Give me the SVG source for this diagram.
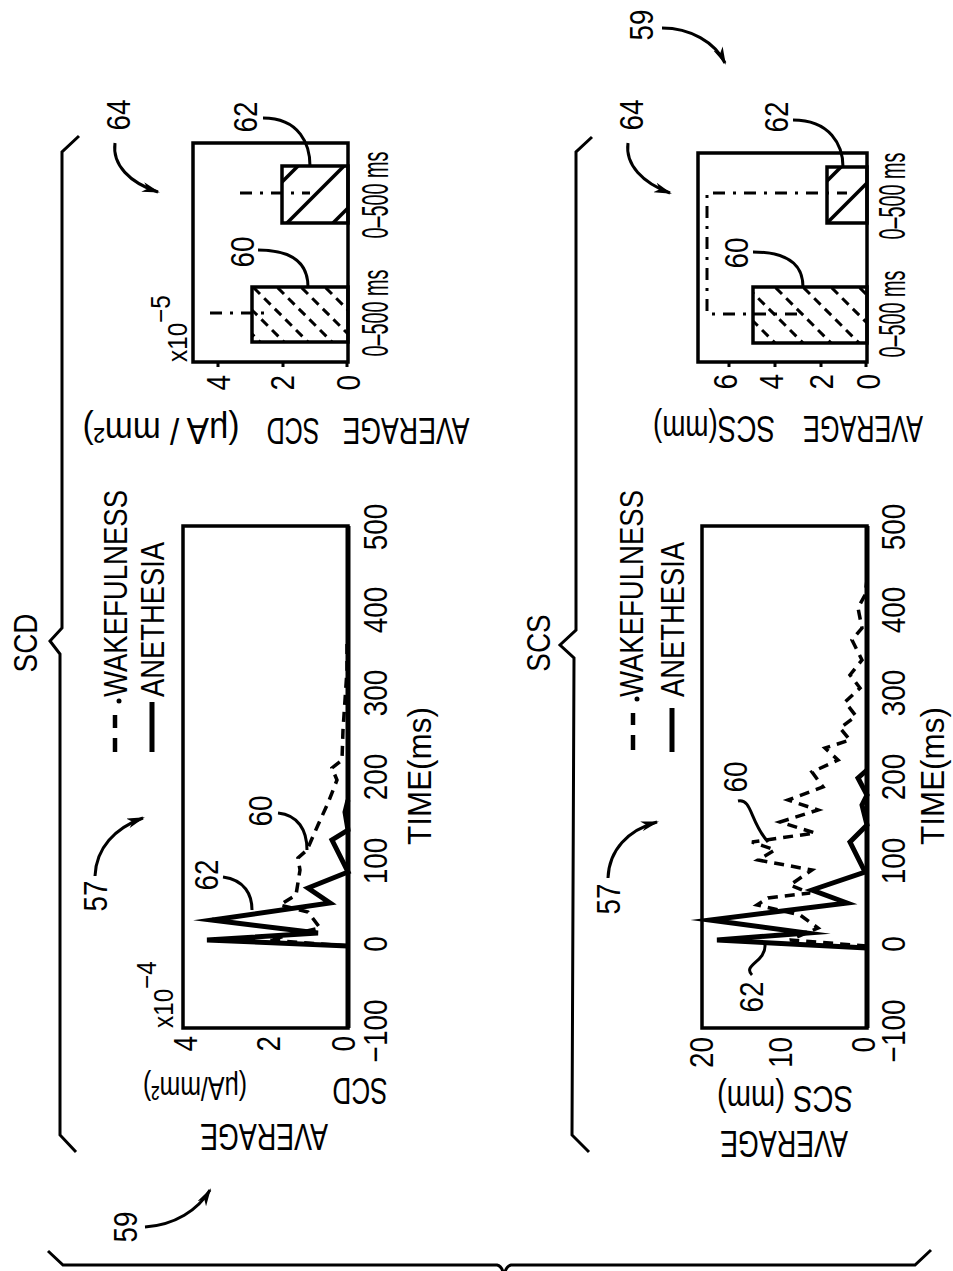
<svg xmlns="http://www.w3.org/2000/svg" width="953" height="1271" viewBox="0 0 953 1271">
<defs>
<style>
.t{font-family:"Liberation Sans",Arial,sans-serif;font-size:34px;fill:#000}
.ln{fill:none;stroke:#000;stroke-width:3}
.box{fill:none;stroke:#000;stroke-width:3.5}
.sol{fill:none;stroke:#000;stroke-width:5;stroke-linejoin:miter;stroke-miterlimit:10}
.dsh{fill:none;stroke:#000;stroke-width:3.5;stroke-dasharray:10 7}
.dd{fill:none;stroke:#000;stroke-width:3;stroke-dasharray:12 8 3 8}
.hd{stroke:#000;stroke-width:3;stroke-dasharray:9 6}
.hs{stroke:#000;stroke-width:3.5}
</style>
<marker id="ah" viewBox="0 0 18 10" refX="16" refY="5" markerWidth="18" markerHeight="10" markerUnits="userSpaceOnUse" orient="auto"><path d="M0,0 L18,5 L0,10 L5,5 Z" fill="#000"/></marker>
<clipPath id="c60a"><rect x="252" y="287" width="96" height="55"/></clipPath>
<clipPath id="c62a"><rect x="282" y="166" width="66" height="57"/></clipPath>
<clipPath id="c60b"><rect x="753" y="287" width="114" height="56"/></clipPath>
<clipPath id="c62b"><rect x="827" y="167" width="40" height="56"/></clipPath>
</defs>
<rect width="953" height="1271" fill="#fff"/>

<g id="braces" class="ln" stroke-width="3.5">
<path d="M79,136 L62,152 L62,628 L50,641 L60,654 L60,1135 L76,1152"/>
<path d="M592,137 L576,152 L576,630 L560,645 L574,658 L572,1135 L589,1152"/>
<path d="M48,1251 L63,1265 L497,1265 Q502,1266 504,1275 Q506,1266 511,1265 L915,1265 L931,1250"/>
<text class="t" stroke="none" transform="translate(37,643) rotate(-90) scale(0.82,1)" text-anchor="middle">SCD</text>
<text class="t" stroke="none" transform="translate(550,643) rotate(-90) scale(0.82,1)" text-anchor="middle">SCS</text>
</g>

<g id="scd-line-plot">
<rect class="box" x="183" y="526" width="165" height="502"/>
<line x1="348" y1="526" x2="348" y2="1028" stroke="#000" stroke-width="5"/>
<polyline class="dsh" points="348,946 268,940 320,928 308,912 280,905 296,895 300,870 298,858 307,850 318,825 328,803 337,780 332,768 342,760 343,730 345,700 347,670 347,640"/>
<polyline class="sol" points="348,946 207,940 318,933 212,920 330,903 308,888 348,872 332,840 348,830 345,812 348,800"/>
<g class="t">
<text transform="translate(387,1031) rotate(-90) scale(0.82,1)" text-anchor="middle">−100</text>
<text transform="translate(387,944) rotate(-90) scale(0.82,1)" text-anchor="middle">0</text>
<text transform="translate(387,861) rotate(-90) scale(0.82,1)" text-anchor="middle">100</text>
<text transform="translate(387,777) rotate(-90) scale(0.82,1)" text-anchor="middle">200</text>
<text transform="translate(387,693) rotate(-90) scale(0.82,1)" text-anchor="middle">300</text>
<text transform="translate(387,610) rotate(-90) scale(0.82,1)" text-anchor="middle">400</text>
<text transform="translate(387,527) rotate(-90) scale(0.82,1)" text-anchor="middle">500</text>
<text transform="translate(431,776) rotate(-90)" text-anchor="middle" textLength="138" lengthAdjust="spacingAndGlyphs">TIME(ms)</text>
<text transform="translate(197,1036) rotate(-90) scale(0.82,1)" text-anchor="end">4</text>
<text transform="translate(280,1036) rotate(-90) scale(0.82,1)" text-anchor="end">2</text>
<text transform="translate(355,1036) rotate(-90) scale(0.82,1)" text-anchor="end">0</text>
<text transform="translate(173,1028) rotate(-90) scale(0.9,1)" font-size="27">x10<tspan dy="-17">−4</tspan></text>
<text transform="translate(264,1124) rotate(180)" font-size="36" text-anchor="middle" textLength="128" lengthAdjust="spacingAndGlyphs">AVERAGE</text>
<text transform="translate(360,1078) rotate(180)" font-size="36" text-anchor="middle" textLength="55" lengthAdjust="spacingAndGlyphs">SCD</text>
<text transform="translate(195,1077) rotate(180)" font-size="34" text-anchor="middle" textLength="104" lengthAdjust="spacingAndGlyphs">(μA/mm²)</text>
</g>
</g>

<g id="scd-legend">
<line x1="115" y1="752" x2="115" y2="738" stroke="#000" stroke-width="4.5"/>
<line x1="115" y1="728" x2="115" y2="715" stroke="#000" stroke-width="4.5"/>
<circle cx="119" cy="701" r="2.5" fill="#000"/>
<line x1="152" y1="752" x2="152" y2="702" stroke="#000" stroke-width="5"/>
<text class="t" font-size="32" transform="translate(127,697) rotate(-90)" textLength="207" lengthAdjust="spacingAndGlyphs">WAKEFULNESS</text>
<text class="t" font-size="32" transform="translate(164,697) rotate(-90)" textLength="155" lengthAdjust="spacingAndGlyphs">ANETHESIA</text>
</g>

<g id="scd-bar-plot">
<g clip-path="url(#c60a)">
<line class="hd" x1="195" y1="277" x2="270" y2="352"/>
<line class="hd" x1="219" y1="277" x2="294" y2="352"/>
<line class="hd" x1="243" y1="277" x2="318" y2="352"/>
<line class="hd" x1="267" y1="277" x2="342" y2="352"/>
<line class="hd" x1="291" y1="277" x2="366" y2="352"/>
<line class="hd" x1="315" y1="277" x2="390" y2="352"/>
</g>
<g clip-path="url(#c62a)">
<line class="hs" x1="234" y1="230" x2="314" y2="150"/>
<line class="hs" x1="280" y1="230" x2="360" y2="150"/>
<line class="hs" x1="326" y1="230" x2="406" y2="150"/>
</g>
<rect class="box" x="252" y="287" width="96" height="55"/>
<rect class="box" x="282" y="166" width="66" height="57"/>
<rect class="box" x="193" y="143" width="155" height="219"/>
<line class="dd" x1="210" y1="313" x2="272" y2="313"/>
<line class="dd" x1="240" y1="193" x2="310" y2="193"/>
<path class="ln" d="M218,362 V367 M283,362 V367 M347,362 V367"/>
<g class="t">
<text transform="translate(230,375) rotate(-90) scale(0.82,1)" text-anchor="end">4</text>
<text transform="translate(294,375) rotate(-90) scale(0.82,1)" text-anchor="end">2</text>
<text transform="translate(360,375) rotate(-90) scale(0.82,1)" text-anchor="end">0</text>
<text transform="translate(187,362) rotate(-90) scale(0.9,1)" font-size="27">x10<tspan dy="-17">−5</tspan></text>
<text font-size="36" transform="translate(388,313) rotate(-90)" text-anchor="middle" textLength="87" lengthAdjust="spacingAndGlyphs">0–500 ms</text>
<text font-size="36" transform="translate(388,195) rotate(-90)" text-anchor="middle" textLength="87" lengthAdjust="spacingAndGlyphs">0–500 ms</text>
<text font-size="36" transform="translate(406,418) rotate(180)" text-anchor="middle" textLength="127" lengthAdjust="spacingAndGlyphs">AVERAGE</text>
<text font-size="36" transform="translate(293,418) rotate(180)" text-anchor="middle" textLength="53" lengthAdjust="spacingAndGlyphs">SCD</text>
<text font-size="36" transform="translate(161,418) rotate(180)" text-anchor="middle" textLength="157" lengthAdjust="spacingAndGlyphs">(μA / mm²)</text>
</g>
</g>

<g id="scs-line-plot">
<rect class="box" x="702" y="526" width="165" height="502"/>
<line x1="867" y1="526" x2="867" y2="1028" stroke="#000" stroke-width="5"/>
<polyline class="dsh" points="867,946 790,940 818,928 800,915 757,905 768,898 810,893 790,885 812,870 758,860 775,850 752,842 815,833 780,822 818,810 788,800 823,787 812,772 838,760 825,748 850,740 840,728 856,716 845,702 860,688 850,675 862,660 852,640 862,628 858,608 865,595 867,580"/>
<polyline class="sol" points="867,948 717,940 807,933 710,920 847,903 812,890 865,872 850,842 867,825 862,805 867,795 858,778 867,770"/>
<g class="t">
<text transform="translate(905,1031) rotate(-90) scale(0.82,1)" text-anchor="middle">−100</text>
<text transform="translate(905,944) rotate(-90) scale(0.82,1)" text-anchor="middle">0</text>
<text transform="translate(905,861) rotate(-90) scale(0.82,1)" text-anchor="middle">100</text>
<text transform="translate(905,777) rotate(-90) scale(0.82,1)" text-anchor="middle">200</text>
<text transform="translate(905,693) rotate(-90) scale(0.82,1)" text-anchor="middle">300</text>
<text transform="translate(905,610) rotate(-90) scale(0.82,1)" text-anchor="middle">400</text>
<text transform="translate(905,527) rotate(-90) scale(0.82,1)" text-anchor="middle">500</text>
<text transform="translate(944,776) rotate(-90)" text-anchor="middle" textLength="138" lengthAdjust="spacingAndGlyphs">TIME(ms)</text>
<text transform="translate(713,1037) rotate(-90) scale(0.82,1)" text-anchor="end">20</text>
<text transform="translate(792,1037) rotate(-90) scale(0.82,1)" text-anchor="end">10</text>
<text transform="translate(875,1037) rotate(-90) scale(0.82,1)" text-anchor="end">0</text>
<text transform="translate(784,1131) rotate(180)" font-size="36" text-anchor="middle" textLength="128" lengthAdjust="spacingAndGlyphs">AVERAGE</text>
<text transform="translate(785,1086) rotate(180)" font-size="36" text-anchor="middle" textLength="136" lengthAdjust="spacingAndGlyphs">SCS (mm)</text>
</g>
</g>

<g id="scs-legend">
<line x1="633" y1="750" x2="633" y2="735" stroke="#000" stroke-width="4.5"/>
<line x1="633" y1="725" x2="633" y2="713" stroke="#000" stroke-width="4.5"/>
<circle cx="637" cy="699" r="2.5" fill="#000"/>
<line x1="672" y1="752" x2="672" y2="708" stroke="#000" stroke-width="5"/>
<text class="t" font-size="32" transform="translate(643,697) rotate(-90)" textLength="207" lengthAdjust="spacingAndGlyphs">WAKEFULNESS</text>
<text class="t" font-size="32" transform="translate(684,697) rotate(-90)" textLength="155" lengthAdjust="spacingAndGlyphs">ANETHESIA</text>
</g>

<g id="scs-bar-plot">
<g clip-path="url(#c60b)">
<line class="hd" x1="681" y1="277" x2="757" y2="353"/>
<line class="hd" x1="709" y1="277" x2="785" y2="353"/>
<line class="hd" x1="737" y1="277" x2="813" y2="353"/>
<line class="hd" x1="765" y1="277" x2="841" y2="353"/>
<line class="hd" x1="793" y1="277" x2="869" y2="353"/>
<line class="hd" x1="821" y1="277" x2="897" y2="353"/>
<line class="hd" x1="849" y1="277" x2="925" y2="353"/>
</g>
<g clip-path="url(#c62b)">
<line class="hs" x1="778" y1="230" x2="858" y2="150"/>
<line class="hs" x1="820" y1="230" x2="900" y2="150"/>
<line class="hs" x1="862" y1="230" x2="942" y2="150"/>
</g>
<rect class="box" x="753" y="287" width="114" height="56"/>
<rect class="box" x="827" y="167" width="40" height="56"/>
<rect class="box" x="698" y="153" width="169" height="209"/>
<polyline class="dd" points="797,314 707,314 707,193 847,193"/>
<path class="ln" d="M729,362 V367 M775,362 V367 M821,362 V367 M866,362 V367"/>
<g class="t">
<text transform="translate(737,374) rotate(-90) scale(0.82,1)" text-anchor="end">6</text>
<text transform="translate(783,374) rotate(-90) scale(0.82,1)" text-anchor="end">4</text>
<text transform="translate(833,374) rotate(-90) scale(0.82,1)" text-anchor="end">2</text>
<text transform="translate(880,374) rotate(-90) scale(0.82,1)" text-anchor="end">0</text>
<text font-size="36" transform="translate(905,314) rotate(-90)" text-anchor="middle" textLength="87" lengthAdjust="spacingAndGlyphs">0–500 ms</text>
<text font-size="36" transform="translate(905,196) rotate(-90)" text-anchor="middle" textLength="87" lengthAdjust="spacingAndGlyphs">0–500 ms</text>
<text font-size="36" transform="translate(863,416) rotate(180)" text-anchor="middle" textLength="120" lengthAdjust="spacingAndGlyphs">AVERAGE</text>
<text font-size="36" transform="translate(714,416) rotate(180)" text-anchor="middle" textLength="122" lengthAdjust="spacingAndGlyphs">SCS(mm)</text>
</g>
</g>

<g id="reference-labels" class="t">
<text transform="translate(107,896) rotate(-90) scale(0.82,1)" text-anchor="middle">57</text>
<text transform="translate(218,875) rotate(-90) scale(0.82,1)" text-anchor="middle">62</text>
<text transform="translate(272,811) rotate(-90) scale(0.82,1)" text-anchor="middle">60</text>
<text transform="translate(130,115) rotate(-90) scale(0.82,1)" text-anchor="middle">64</text>
<text transform="translate(257,117) rotate(-90) scale(0.82,1)" text-anchor="middle">62</text>
<text transform="translate(254,252) rotate(-90) scale(0.82,1)" text-anchor="middle">60</text>
<text transform="translate(137,1227) rotate(-90) scale(0.82,1)" text-anchor="middle">59</text>
<text transform="translate(620,899) rotate(-90) scale(0.82,1)" text-anchor="middle">57</text>
<text transform="translate(763,997) rotate(-90) scale(0.82,1)" text-anchor="middle">62</text>
<text transform="translate(747,777) rotate(-90) scale(0.82,1)" text-anchor="middle">60</text>
<text transform="translate(643,115) rotate(-90) scale(0.82,1)" text-anchor="middle">64</text>
<text transform="translate(788,117) rotate(-90) scale(0.82,1)" text-anchor="middle">62</text>
<text transform="translate(748,253) rotate(-90) scale(0.82,1)" text-anchor="middle">60</text>
<text transform="translate(653,25) rotate(-90) scale(0.82,1)" text-anchor="middle">59</text>
</g>

<g id="connectors" class="ln">
<path d="M95,876 C96,848 115,828 143,818" marker-end="url(#ah)"/>
<path d="M608,878 C609,850 628,830 657,822" marker-end="url(#ah)"/>
<path d="M145,1227 C175,1225 198,1210 210,1190" marker-end="url(#ah)"/>
<path d="M662,28 C690,28 715,42 725,63" marker-end="url(#ah)"/>
<path d="M115,143 C112,165 130,183 158,192" marker-end="url(#ah)"/>
<path d="M628,143 C625,165 643,183 670,193" marker-end="url(#ah)"/>
<path d="M223,877 C245,880 252,895 252,910"/>
<path d="M278,813 C298,815 307,830 307,850"/>
<path d="M752,975 C742,965 766,962 765,945"/>
<path d="M738,801 C752,798 750,822 768,842"/>
<path d="M258,250 C300,250 308,270 308,287"/>
<path d="M263,118 C300,118 310,145 310,166"/>
<path d="M753,252 C795,252 803,270 803,287"/>
<path d="M793,120 C830,120 843,145 843,167"/>
</g>
</svg>
